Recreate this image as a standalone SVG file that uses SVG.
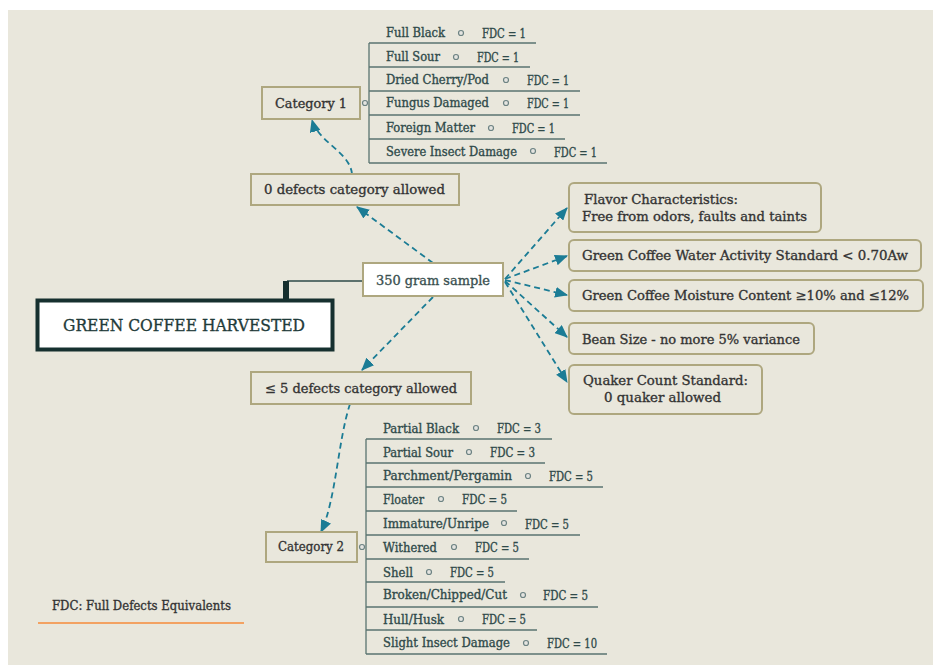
<svg xmlns="http://www.w3.org/2000/svg" width="933" height="665" viewBox="0 0 933 665">
<defs>
<marker id="ah" viewBox="0 0 12 10" refX="11" refY="5" markerWidth="13" markerHeight="11" orient="auto" markerUnits="userSpaceOnUse">
<path d="M0,0 L12,5 L0,10 z" fill="#1b7c95"/>
</marker>
</defs>
<style>
text{font-family:"DejaVu Serif","Liberation Serif",serif;stroke-width:0.35;paint-order:stroke;}
.box{fill:#e9e7dc;stroke:#aea77f;stroke-width:2;}
.wbox{fill:#ffffff;stroke:#aea77f;stroke-width:2;}
.lbl{font-size:13.5px;fill:#333333;stroke:#333333;}
.rl{font-size:13.5px;fill:#333333;stroke:#333333;}
.it{font-size:12px;fill:#2f4a4a;stroke:#2f4a4a;}
.ul{stroke:#5a7470;stroke-width:1.3;fill:none;}
.dot{fill:#e4e4e0;stroke:#6d8383;stroke-width:1.2;}
.con{fill:none;stroke:#1b7c95;stroke-width:1.8;stroke-dasharray:6 4;}
</style>
<rect x="8" y="10" width="925" height="655" fill="#e9e7dc"/>

<g id="connectors">
<path class="con" d="M433,263 L357,207" marker-end="url(#ah)"/>
<path class="con" d="M433,297 L362,370" marker-end="url(#ah)"/>
<path class="con" d="M352,174 C350,152 318,142 312,120" marker-end="url(#ah)"/>
<path class="con" d="M350,404 C338,440 336,500 321,532" marker-end="url(#ah)"/>
<path class="con" d="M505,279 L567,208" marker-end="url(#ah)"/>
<path class="con" d="M505,279 L567,256" marker-end="url(#ah)"/>
<path class="con" d="M505,280 L567,295" marker-end="url(#ah)"/>
<path class="con" d="M505,281 L567,337" marker-end="url(#ah)"/>
<path class="con" d="M505,282 L567,382" marker-end="url(#ah)"/>
<path d="M287,281 L363,281" stroke="#2c4a48" stroke-width="1.6" fill="none"/>
</g>

<g id="root">
<rect x="283" y="281" width="6" height="19" fill="#16302f"/>
<rect x="37.5" y="300.5" width="295" height="49" fill="#ffffff" stroke="#16302f" stroke-width="4"/>
<text x="63" y="331" font-size="17px" fill="#1f3b3a" stroke="#1f3b3a" textLength="242" lengthAdjust="spacingAndGlyphs">GREEN COFFEE HARVESTED</text>
</g>

<g id="sample">
<rect class="wbox" x="363" y="263" width="140" height="33"/>
<text x="376" y="285" font-size="13.5px" fill="#3a5050" stroke="#3a5050" textLength="114" lengthAdjust="spacingAndGlyphs">350 gram sample</text>
</g>

<g id="zero-defects">
<rect class="box" x="251" y="174" width="208" height="31"/>
<text class="lbl" x="264" y="194" textLength="181" lengthAdjust="spacingAndGlyphs">0 defects category allowed</text>
</g>

<g id="five-defects">
<rect class="box" x="251" y="372" width="220" height="32"/>
<text class="lbl" x="265" y="393" textLength="192" lengthAdjust="spacingAndGlyphs">≤ 5 defects category allowed</text>
</g>

<g id="category1">
<rect class="box" x="262" y="87" width="98" height="32"/>
<text class="lbl" x="275" y="108" textLength="72" lengthAdjust="spacingAndGlyphs">Category 1</text>
<circle class="dot" cx="365" cy="103" r="2.5"/>
<path class="ul" d="M369,43 V163 M369,43 H536 M369,67 H530 M369,91 H580 M369,115 H580 M369,139 H565 M369,163 H607"/>
<text class="it" x="386" y="37" textLength="59" lengthAdjust="spacingAndGlyphs">Full Black</text>
<circle class="dot" cx="461" cy="33" r="2.5"/>
<text class="it" x="482" y="38" textLength="44" lengthAdjust="spacingAndGlyphs">FDC = 1</text>
<text class="it" x="386" y="61" textLength="54" lengthAdjust="spacingAndGlyphs">Full Sour</text>
<circle class="dot" cx="456" cy="57" r="2.5"/>
<text class="it" x="477" y="62" textLength="42" lengthAdjust="spacingAndGlyphs">FDC = 1</text>
<text class="it" x="386" y="84" textLength="103" lengthAdjust="spacingAndGlyphs">Dried Cherry/Pod</text>
<circle class="dot" cx="506" cy="80" r="2.5"/>
<text class="it" x="527" y="85" textLength="42" lengthAdjust="spacingAndGlyphs">FDC = 1</text>
<text class="it" x="386" y="107" textLength="103" lengthAdjust="spacingAndGlyphs">Fungus Damaged</text>
<circle class="dot" cx="506" cy="103" r="2.5"/>
<text class="it" x="527" y="108" textLength="42" lengthAdjust="spacingAndGlyphs">FDC = 1</text>
<text class="it" x="386" y="132" textLength="89" lengthAdjust="spacingAndGlyphs">Foreign Matter</text>
<circle class="dot" cx="491" cy="128" r="2.5"/>
<text class="it" x="512" y="133" textLength="43" lengthAdjust="spacingAndGlyphs">FDC = 1</text>
<text class="it" x="386" y="156" textLength="131" lengthAdjust="spacingAndGlyphs">Severe Insect Damage</text>
<circle class="dot" cx="533" cy="151" r="2.5"/>
<text class="it" x="554" y="157" textLength="43" lengthAdjust="spacingAndGlyphs">FDC = 1</text>
</g>

<g id="category2">
<rect class="box" x="266" y="532" width="91" height="30"/>
<text class="lbl" x="278" y="551" textLength="66" lengthAdjust="spacingAndGlyphs">Category 2</text>
<circle class="dot" cx="362" cy="547" r="2.5"/>
<path class="ul" d="M366,439 V654 M366,439 H552 M366,463 H545 M366,487 H603 M366,511 H517 M366,535 H580 M366,559 H529 M366,582 H505 M366,607 H598 M366,630 H537 M366,654 H607"/>
<text class="it" x="383" y="433" textLength="76" lengthAdjust="spacingAndGlyphs">Partial Black</text>
<circle class="dot" cx="476" cy="428" r="2.5"/>
<text class="it" x="497" y="433" textLength="44" lengthAdjust="spacingAndGlyphs">FDC = 3</text>
<text class="it" x="383" y="457" textLength="70" lengthAdjust="spacingAndGlyphs">Partial Sour</text>
<circle class="dot" cx="469" cy="452" r="2.5"/>
<text class="it" x="490" y="457" textLength="45" lengthAdjust="spacingAndGlyphs">FDC = 3</text>
<text class="it" x="383" y="480" textLength="129" lengthAdjust="spacingAndGlyphs">Parchment/Pergamin</text>
<circle class="dot" cx="528" cy="476" r="2.5"/>
<text class="it" x="549" y="481" textLength="44" lengthAdjust="spacingAndGlyphs">FDC = 5</text>
<text class="it" x="383" y="504" textLength="41" lengthAdjust="spacingAndGlyphs">Floater</text>
<circle class="dot" cx="441" cy="499" r="2.5"/>
<text class="it" x="462" y="504" textLength="45" lengthAdjust="spacingAndGlyphs">FDC = 5</text>
<text class="it" x="383" y="528" textLength="106" lengthAdjust="spacingAndGlyphs">Immature/Unripe</text>
<circle class="dot" cx="504" cy="523" r="2.5"/>
<text class="it" x="525" y="529" textLength="44" lengthAdjust="spacingAndGlyphs">FDC = 5</text>
<text class="it" x="383" y="552" textLength="54" lengthAdjust="spacingAndGlyphs">Withered</text>
<circle class="dot" cx="454" cy="547" r="2.5"/>
<text class="it" x="475" y="552" textLength="44" lengthAdjust="spacingAndGlyphs">FDC = 5</text>
<text class="it" x="383" y="577" textLength="30" lengthAdjust="spacingAndGlyphs">Shell</text>
<circle class="dot" cx="429" cy="572" r="2.5"/>
<text class="it" x="450" y="577" textLength="44" lengthAdjust="spacingAndGlyphs">FDC = 5</text>
<text class="it" x="383" y="599" textLength="124" lengthAdjust="spacingAndGlyphs">Broken/Chipped/Cut</text>
<circle class="dot" cx="523" cy="595" r="2.5"/>
<text class="it" x="543" y="600" textLength="45" lengthAdjust="spacingAndGlyphs">FDC = 5</text>
<text class="it" x="383" y="624" textLength="61" lengthAdjust="spacingAndGlyphs">Hull/Husk</text>
<circle class="dot" cx="461" cy="619" r="2.5"/>
<text class="it" x="482" y="624" textLength="44" lengthAdjust="spacingAndGlyphs">FDC = 5</text>
<text class="it" x="383" y="647" textLength="127" lengthAdjust="spacingAndGlyphs">Slight Insect Damage</text>
<circle class="dot" cx="526" cy="643" r="2.5"/>
<text class="it" x="547" y="648" textLength="50" lengthAdjust="spacingAndGlyphs">FDC = 10</text>
</g>

<g id="flavor">
<rect class="box" x="569" y="183" width="252" height="49" rx="5"/>
<text class="rl" x="584" y="204" textLength="154" lengthAdjust="spacingAndGlyphs">Flavor Characteristics:</text>
<text class="rl" x="582" y="221" textLength="225" lengthAdjust="spacingAndGlyphs">Free from odors, faults and taints</text>
</g>

<g id="water-activity">
<rect class="box" x="569" y="240" width="352" height="31" rx="5"/>
<text class="rl" x="582" y="260" textLength="326" lengthAdjust="spacingAndGlyphs">Green Coffee Water Activity Standard &lt; 0.70Aw</text>
</g>

<g id="moisture">
<rect class="box" x="569" y="280" width="354" height="31" rx="5"/>
<text class="rl" x="582" y="300" textLength="327" lengthAdjust="spacingAndGlyphs">Green Coffee Moisture Content ≥10% and ≤12%</text>
</g>

<g id="bean-size">
<rect class="box" x="569" y="323" width="245" height="31" rx="5"/>
<text class="rl" x="582" y="344" textLength="218" lengthAdjust="spacingAndGlyphs">Bean Size - no more 5% variance</text>
</g>

<g id="quaker">
<rect class="box" x="569" y="365" width="193" height="49" rx="5"/>
<text class="rl" x="583" y="385" textLength="165" lengthAdjust="spacingAndGlyphs">Quaker Count Standard:</text>
<text class="rl" x="604" y="402" textLength="117" lengthAdjust="spacingAndGlyphs">0 quaker allowed</text>
</g>

<g id="legend">
<text x="52" y="610" font-size="12.5px" fill="#333333" stroke="#333333" textLength="179" lengthAdjust="spacingAndGlyphs">FDC: Full Defects Equivalents</text>
<line x1="38" y1="623" x2="244" y2="623" stroke="#f3a262" stroke-width="2"/>
</g>
</svg>
